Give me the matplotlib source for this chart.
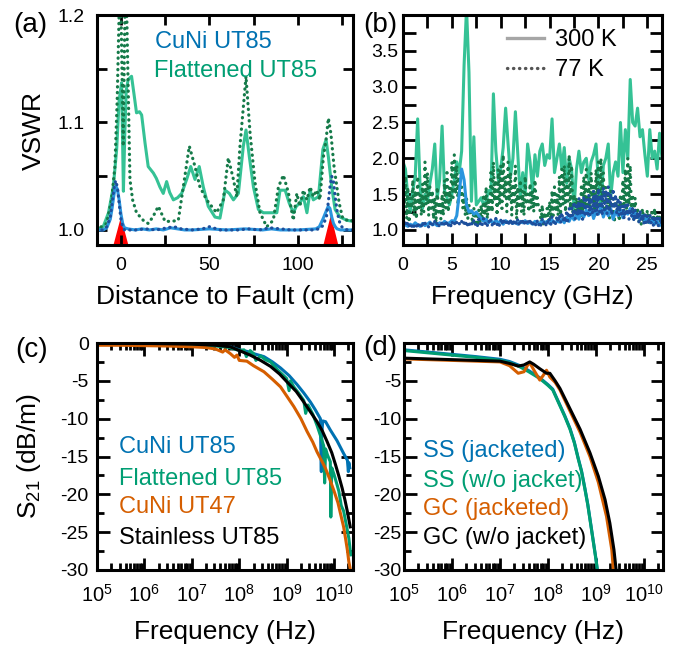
import numpy as np
import matplotlib
matplotlib.use('Agg')
import matplotlib.pyplot as plt
from matplotlib.ticker import MultipleLocator, LogLocator, NullFormatter, FixedLocator
from matplotlib.lines import Line2D

plt.rcParams['font.family'] = ['Liberation Sans', 'DejaVu Sans']
plt.rcParams['mathtext.fontset'] = 'custom'
plt.rcParams['mathtext.rm'] = 'Liberation Sans'
plt.rcParams['mathtext.it'] = 'Liberation Sans:italic'
plt.rcParams['mathtext.bf'] = 'Liberation Sans:bold'
plt.rcParams['axes.unicode_minus'] = False

# ---------------- Panel (a): VSWR vs distance to fault ----------------
fault_pos = [0.0, 118.5]
fault_apex = [1.012, 1.014]

a_cuni300_x = [-14, -10, -8, -6, -5, -4, -3, -2, -1, 0, 1, 2, 4, 8, 12, 16, 20, 24, 28, 32, 36, 40, 50, 60,
               70, 80, 85, 90, 100, 110, 112, 114, 116, 117, 118, 119, 120, 121, 122, 124, 126, 128, 131]
a_cuni300_y = [1.0, 1.0, 1.002, 1.01, 1.02, 1.032, 1.041, 1.038, 1.028, 1.015, 1.006, 1.002, 1.001, 1.0,
               1.001, 1.0, 1.001, 1.0, 1.002, 1.001, 1.0, 1.0, 1.001, 1.0, 1.001, 1.0, 1.001, 1.0, 1.0,
               1.001, 1.003, 1.01, 1.018, 1.022, 1.02, 1.012, 1.006, 1.003, 1.001, 1.0, 1.0, 1.0, 1.0]

a_cuni77_x = [-14, -10, -8, -6, -5, -4, -3, -2, -1, 0, 1, 2, 4, 8, 14, 20, 26, 30, 34, 40, 46, 50, 56, 60,
              66, 72, 78, 84, 90, 96, 102, 108, 112, 114, 116, 117, 118, 119, 120, 121, 122, 123, 124, 126,
              128, 131]
a_cuni77_y = [1.0, 1.0, 1.003, 1.012, 1.025, 1.038, 1.046, 1.04, 1.025, 1.01, 1.003, 1.0, 1.0, 1.0, 1.001,
              1.0, 1.002, 1.003, 1.001, 1.0, 1.001, 1.003, 1.0, 1.0, 1.0, 1.001, 1.0, 1.002, 1.001, 1.0,
              1.0, 1.0, 1.001, 1.004, 1.012, 1.025, 1.04, 1.05, 1.045, 1.03, 1.018, 1.01, 1.004, 1.001,
              1.0, 1.0]

a_flat300_x = [-14, -10, -7, -4.3, -2.4, -1.0, 0.4, 1.4, 2.2, 3.0, 4.1, 6.0, 7.5, 8.8, 10.5, 11.7, 13.6,
               15.4, 18.3, 20, 22, 23.9, 25.8, 27.5, 29.6, 32, 34.3, 37.1, 39.4, 41.8, 44.2, 46.5, 49.3,
               53.1, 55.9, 58.8, 61.2, 63.5, 66.3, 69.1, 70.6, 72.5, 74.8, 77.6, 80.4, 84, 88, 89.8, 92.7,
               95, 97.3, 99, 101, 103, 105, 106.8, 108.6, 111.5, 114, 115.8, 117.1, 119, 120.9, 123.7,
               127.5, 131]
a_flat300_y = [1.0, 1.003, 1.016, 1.04, 1.075, 1.121, 1.137, 1.036, 1.09, 1.13, 1.14, 1.143, 1.125, 1.109,
               1.11, 1.107, 1.081, 1.059, 1.053, 1.048, 1.040, 1.034, 1.045, 1.035, 1.028, 1.03, 1.034,
               1.047, 1.059, 1.047, 1.059, 1.040, 1.022, 1.012, 1.011, 1.037, 1.034, 1.028, 1.034, 1.078,
               1.093, 1.068, 1.040, 1.019, 1.016, 1.016, 1.016, 1.037, 1.037, 1.025, 1.016, 1.022, 1.025,
               1.031, 1.016, 1.037, 1.028, 1.031, 1.075, 1.084, 1.068, 1.040, 1.019, 1.012, 1.009, 1.008]

a_flat77_x = [-14, -8.1, -5.3, -3.4, -2.1, -1.1, -0.5, 1.3, 2.6, 3.3, 5.1, 6.6, 8.8, 12.6, 15.4, 18, 21.1,
              23, 24.9, 28.6, 32.4, 35.2, 38.6, 41.8, 44.6, 48.4, 54, 57.8, 60.6, 63.5, 65.4, 67.2, 70.6,
              72.9, 75.7, 78.5, 82.3, 86, 88.9, 91.7, 94.5, 97.3, 99.3, 101, 103, 105, 106.8, 108.6,
              110.5, 112.3, 114.3, 115.8, 117.1, 118.5, 120.3, 121.9, 123.2, 125, 127, 129, 131]
a_flat77_y = [1.0, 1.006, 1.028, 1.059, 1.121, 1.196, 1.26, 1.078, 1.25, 1.2, 1.047, 1.028, 1.016, 1.009,
              1.006, 1.012, 1.022, 1.015, 1.008, 1.008, 1.009, 1.040, 1.078, 1.059, 1.040, 1.028, 1.016,
              1.028, 1.067, 1.047, 1.031, 1.078, 1.143, 1.090, 1.044, 1.016, 1.003, 1.009, 1.040, 1.051,
              1.035, 1.009, 1.034, 1.022, 1.037, 1.028, 1.040, 1.031, 1.037, 1.028, 1.068, 1.084, 1.104,
              1.090, 1.059, 1.040, 1.025, 1.012, 1.009, 1.01, 1.008]

# ---------------- Panel (b): VSWR vs frequency ----------------
b_flat300 = [1.95, 1.85, 1.45, 1.25, 1.55, 1.75, 2.55, 1.60, 1.30, 1.50, 1.40, 1.65, 1.85, 2.20, 1.45, 1.70,
             2.45, 1.55, 1.45, 1.35, 1.50, 1.70, 1.95, 1.80, 2.10, 3.30, 4.10, 3.20, 1.40, 2.30, 1.35, 1.40,
             1.45, 1.35, 1.40, 1.55, 1.50, 2.90, 2.10, 1.70, 1.85, 2.15, 2.70, 2.20, 1.75, 2.00, 2.65, 2.05,
             1.45, 1.80, 1.50, 2.20, 1.95, 1.55, 2.05, 1.75, 2.10, 2.20, 1.90, 2.05, 2.00, 2.55, 1.80, 2.00,
             2.20, 1.85, 2.15, 1.65, 2.00, 1.85, 1.30, 1.85, 2.10, 1.80, 1.95, 2.00, 1.70, 1.95, 2.05, 2.20,
             1.65, 1.30, 1.90, 2.00, 2.20, 1.45, 1.80, 1.95, 1.75, 2.50, 1.80, 2.40, 2.00, 3.10, 2.50, 2.45,
             2.70, 2.30, 2.40, 2.05, 1.75, 2.40, 2.00, 2.10, 1.85, 2.35, 2.00]

b_flat77 = [1.9, 1.35, 1.75, 1.15, 1.6, 1.1, 1.45, 1.3,
            1.7, 1.2, 1.55, 1.15, 1.75, 1.3, 1.5, 1.2,
            1.65, 1.25, 1.95, 1.35, 1.8, 1.2, 1.6, 1.3,
            1.55, 1.15, 1.45, 1.1, 1.6, 1.25, 1.4, 1.15,
            1.5, 1.2, 1.7, 1.3, 1.8, 1.25, 1.6, 1.4,
            1.95, 1.45, 2.05, 1.5, 1.9, 1.35, 1.75, 1.45,
            1.6, 1.3, 1.5, 1.2, 1.45, 1.15, 1.35, 1.2,
            1.25, 1.08, 1.3, 1.1, 1.2, 1.05, 1.28, 1.1,
            1.35, 1.12, 1.5, 1.2, 1.6, 1.15, 1.45, 1.25,
            1.8, 1.25, 1.95, 1.4, 1.7, 1.2, 1.85, 1.35,
            1.9, 1.3, 2.05, 1.45, 1.75, 1.25, 1.95, 1.4,
            1.8, 1.2, 1.65, 1.35, 1.9, 1.15, 1.6, 1.3,
            1.7, 1.25, 1.55, 1.2, 1.75, 1.35, 1.5, 1.25,
            1.65, 1.3, 1.55, 1.25, 1.7, 1.35, 1.45, 1.3,
            1.3, 1.1, 1.35, 1.05, 1.25, 1.1, 1.3, 1.12,
            1.4, 1.15, 1.55, 1.2, 1.6, 1.25, 1.5, 1.2,
            1.75, 1.2, 1.85, 1.35, 1.9, 1.25, 1.7, 1.4,
            2.05, 1.3, 1.9, 1.25, 1.5, 1.15, 1.45, 1.2,
            1.4, 1.15, 1.6, 1.2, 1.75, 1.3, 1.85, 1.25,
            1.7, 1.2, 1.8, 1.35, 1.65, 1.2, 1.85, 1.3,
            1.95, 1.3, 2.0, 1.4, 1.8, 1.25, 1.6, 1.3,
            1.5, 1.15, 1.55, 1.2, 1.4, 1.1, 1.45, 1.2,
            1.35, 1.12, 1.5, 1.2, 1.7, 1.25, 1.85, 1.3,
            2.0, 1.35, 1.9, 1.25, 1.5, 1.15, 1.45, 1.2,
            1.3, 1.1, 1.25, 1.08, 1.3, 1.12, 1.22, 1.1,
            1.28, 1.1, 1.2, 1.08, 1.25, 1.12, 1.3, 1.1,
            1.22, 1.08, 1.2, 1.1, 1.18]

b_cuni300 = [1.1, 1.07, 1.05, 1.08, 1.06, 1.1, 1.07, 1.05, 1.09, 1.06, 1.08, 1.11, 1.07, 1.09, 1.06, 1.1,
             1.08, 1.12, 1.09, 1.1, 1.13, 1.12,
             1.2, 1.5, 1.85, 1.7, 1.35, 1.25, 1.27, 1.22, 1.25, 1.2, 1.16,
             1.12, 1.15, 1.1, 1.13, 1.09, 1.14, 1.1, 1.12, 1.08, 1.13, 1.1, 1.12, 1.09, 1.11, 1.08, 1.12,
             1.1, 1.13, 1.09, 1.11, 1.08, 1.12, 1.1, 1.09, 1.13, 1.1, 1.12, 1.09, 1.14, 1.1, 1.12, 1.11,
             1.15, 1.1, 1.18, 1.12, 1.2, 1.14, 1.22, 1.15, 1.25, 1.18, 1.28, 1.2, 1.3, 1.16, 1.27, 1.22,
             1.32, 1.18, 1.28, 1.2, 1.3, 1.15, 1.26, 1.2, 1.28, 1.17, 1.25, 1.22, 1.3, 1.18, 1.24, 1.2,
             1.15, 1.2, 1.12, 1.18, 1.1, 1.14, 1.08, 1.12, 1.06, 1.1]

b_cuni77 = [1.08, 1.04, 1.1, 1.05, 1.12, 1.06, 1.09, 1.04,
            1.1, 1.05, 1.08, 1.04, 1.11, 1.06, 1.09, 1.05,
            1.12, 1.05, 1.1, 1.06, 1.08, 1.04, 1.11, 1.05,
            1.09, 1.05, 1.12, 1.06, 1.1, 1.04, 1.08, 1.05,
            1.11, 1.06, 1.09, 1.05, 1.12, 1.06, 1.1, 1.05,
            1.13, 1.06, 1.1, 1.05, 1.12, 1.07, 1.09, 1.06,
            1.12, 1.06, 1.1, 1.05, 1.13, 1.06, 1.11, 1.05,
            1.1, 1.06, 1.14, 1.07, 1.12, 1.06, 1.15, 1.07,
            1.13, 1.07, 1.16, 1.08, 1.12, 1.06, 1.14, 1.08,
            1.15, 1.07, 1.13, 1.08, 1.16, 1.07, 1.12, 1.06,
            1.14, 1.07, 1.16, 1.08, 1.12, 1.06, 1.15, 1.07,
            1.13, 1.06, 1.15, 1.08, 1.12, 1.07, 1.16, 1.08,
            1.14, 1.07, 1.12, 1.06, 1.15, 1.08, 1.13, 1.07,
            1.12, 1.06, 1.14, 1.07, 1.11, 1.05, 1.13, 1.06,
            1.12, 1.06, 1.15, 1.08, 1.13, 1.07, 1.14, 1.08,
            1.16, 1.08, 1.18, 1.1, 1.15, 1.08, 1.2, 1.1,
            1.22, 1.1, 1.25, 1.12, 1.2, 1.1, 1.28, 1.12,
            1.3, 1.15, 1.35, 1.18, 1.4, 1.15, 1.38, 1.2,
            1.45, 1.2, 1.4, 1.15, 1.48, 1.22, 1.42, 1.18,
            1.5, 1.2, 1.45, 1.22, 1.55, 1.25, 1.5, 1.2,
            1.58, 1.25, 1.5, 1.2, 1.6, 1.28, 1.55, 1.22,
            1.6, 1.25, 1.52, 1.2, 1.58, 1.3, 1.5, 1.22,
            1.45, 1.2, 1.4, 1.18, 1.35, 1.15, 1.38, 1.2,
            1.35, 1.15, 1.3, 1.18, 1.32, 1.12, 1.28, 1.15,
            1.25, 1.1, 1.28, 1.12, 1.22, 1.08, 1.25, 1.1,
            1.2, 1.08, 1.22, 1.1, 1.18, 1.06, 1.2, 1.08,
            1.18, 1.06, 1.2, 1.08, 1.15]

b_freq_coarse = np.linspace(0, 26.5, len(b_flat300))
b_freq_fine = np.linspace(0, 26.5, len(b_flat77))

# ---------------- Panel (c): S21 of cable types (log10 Hz, dB/m) ----------------
c_labels = ['CuNi UT85', 'Flattened UT85', 'CuNi UT47', 'Stainless UT85']
c_cuni85_lf = [5.0, 5.5, 6.0, 6.5, 7.0, 7.3, 7.6, 7.81, 8.0, 8.16, 8.3, 8.52, 8.7, 8.87, 9.05, 9.22, 9.36,
               9.5, 9.6, 9.71, 9.72, 9.73, 9.74, 9.76, 9.82, 9.92, 10.06, 10.2, 10.28, 10.3, 10.31, 10.33]
c_cuni85_db = [0, 0, 0, -0.05, -0.1, -0.2, -0.3, -0.5, -0.9, -1.1, -1.4, -1.8, -2.5, -3.3, -4.3, -5.5,
               -6.6, -7.8, -8.8, -10.0, -14, -17, -12, -10.3, -10.4, -11.5, -12.9, -14.6, -15.5, -17,
               -15.8, -16.5]
c_flat85_lf = [5.0, 6.0, 7.0, 7.5, 7.8, 8.0, 8.1, 8.15, 8.23, 8.3, 8.35, 8.45, 8.55, 8.66, 8.8, 8.9, 9.0,
               9.05, 9.08, 9.15, 9.25, 9.36, 9.4, 9.45, 9.55, 9.64, 9.72, 9.78, 9.8, 9.82, 9.86, 9.92, 9.93,
               9.95, 10.0, 10.06, 10.1, 10.15, 10.2, 10.25, 10.31, 10.35]
c_flat85_db = [0, -0.05, -0.2, -0.4, -0.6, -1.0, -0.9, -1.8, -1.0, -1.4, -2.3, -1.7, -2.2, -2.5, -3.5,
               -4.1, -4.7, -6.3, -5.0, -5.8, -6.6, -7.6, -9.3, -8.2, -9.4, -10.9, -12.4, -13.6, -18.5,
               -14.0, -14.8, -15.7, -23, -16.5, -17.4, -18.7, -19.6, -21.5, -22.2, -23.8, -25.8, -28.0]
c_cuni47_lf = [5.0, 5.5, 6.0, 6.5, 7.0, 7.3, 7.5, 7.65, 7.7, 7.81, 7.9, 7.95, 8.0, 8.16, 8.3, 8.52, 8.7,
               8.87, 9.0, 9.15, 9.3, 9.43, 9.55, 9.64, 9.74, 9.82, 9.92, 10.0, 10.08, 10.14, 10.2, 10.24,
               10.28, 10.31, 10.36]
c_cuni47_db = [-0.3, -0.3, -0.35, -0.4, -0.5, -0.6, -0.8, -1.2, -0.9, -1.4, -1.9, -1.6, -2.3, -2.4, -3.0,
               -3.8, -4.8, -5.8, -7.0, -8.4, -10.0, -11.7, -13.1, -14.4, -15.6, -16.6, -18.2, -19.6,
               -21.1, -22.7, -24.3, -25.8, -27.4, -28.9, -30.5]
c_ss85_lf = [5.0, 6.0, 7.0, 7.5, 7.81, 8.0, 8.23, 8.45, 8.66, 8.85, 9.0, 9.2, 9.36, 9.5, 9.64, 9.75, 9.85,
             9.95, 10.03, 10.1, 10.17, 10.23, 10.28, 10.34]
c_ss85_db = [0, -0.05, -0.15, -0.3, -0.5, -1.0, -1.6, -2.3, -3.1, -4.1, -5.1, -6.4, -7.8, -9.1, -10.4,
             -11.6, -13.0, -14.5, -16.1, -17.6, -19.2, -20.8, -22.3, -24.3]

# ---------------- Panel (d): S21 jacketed vs unjacketed ----------------
d_labels = ['SS (jacketed)', 'SS (w/o jacket)', 'GC (jacketed)', 'GC (w/o jacket)']
d_ss_lf = [5.0, 5.5, 6.0, 6.5, 7.0, 7.2, 7.4, 7.6, 7.83, 8.0, 8.1, 8.25, 8.35, 8.46, 8.55, 8.63, 8.7, 8.77,
           8.83, 8.875, 8.92, 8.96, 9.0, 9.04]
d_ssj_db = [-0.9, -1.2, -1.5, -1.8, -2.15, -2.45, -2.95, -3.65, -4.6, -5.5, -6.1, -8.2, -9.6, -11.3, -13.1,
            -15.2, -16.9, -19.2, -21.3, -23.2, -25.1, -26.8, -28.5, -30.5]
d_ssn_db = [-1.0, -1.3, -1.6, -1.9, -2.3, -2.6, -3.1, -3.8, -4.7, -5.6, -6.2, -8.3, -9.7, -11.4, -13.2,
            -15.3, -17.0, -19.3, -21.4, -23.3, -25.2, -26.9, -28.6, -30.5]
d_gcj_lf = [5.0, 5.5, 6.0, 6.5, 7.0, 7.2, 7.38, 7.5, 7.58, 7.62, 7.7, 7.83, 7.9, 7.97, 8.04, 8.15, 8.25,
            8.46, 8.67, 8.875, 9.05, 9.22, 9.33, 9.37]
d_gcj_db = [-2.1, -2.2, -2.3, -2.4, -2.5, -3.0, -4.0, -3.8, -2.9, -2.6, -3.5, -4.9, -4.3, -3.6, -4.5, -5.2,
            -6.2, -9.0, -11.8, -15.0, -18.4, -22.9, -27.3, -30.5]
d_gcn_lf = [5.0, 5.5, 6.0, 6.5, 7.0, 7.2, 7.38, 7.5, 7.62, 7.7, 7.83, 7.97, 8.04, 8.15, 8.25, 8.46, 8.67,
            8.875, 9.05, 9.19, 9.29, 9.375, 9.43]
d_gcn_db = [-2.0, -2.1, -2.2, -2.3, -2.4, -2.7, -3.05, -2.9, -2.5, -2.8, -3.4, -4.0, -4.0, -5.0, -6.0,
            -8.7, -11.4, -14.5, -17.6, -20.7, -23.8, -27.3, -30.5]

# ---------------- styling ----------------
C_BLUE, C_GREEN, C_ORANGE, C_BLACK = '#0072B2', '#009E73', '#D55E00', '#000000'
C_CUNI300, C_CUNI77 = '#2a95de', '#1d4f9c'
C_FLAT300, C_FLAT77 = '#35c295', '#157a49'
DOT = (0, (0.1, 1.7))
DOT_B = (0, (0.1, 2.1))
TICK_FS = 14
LABEL_FS = 19
LEG_FS = 17

fig = plt.figure(figsize=(6.73, 6.48), dpi=100)
W, H = 673.0, 648.0


def add_ax(l, r, t, b):
    return fig.add_axes([l / W, 1 - b / H, (r - l) / W, (b - t) / H])


ax_a = add_ax(97, 353, 15, 245)
ax_b = add_ax(403, 662, 15, 245)
ax_c = add_ax(97, 353, 343, 570)
ax_d = add_ax(404, 663, 343, 570)

for ax in (ax_a, ax_b, ax_c, ax_d):
    for s in ax.spines.values():
        s.set_linewidth(2.2)
    ax.tick_params(which='both', direction='in', top=True, right=True, width=2.0,
                   labelsize=TICK_FS)

# ---- (a)
ax_a.plot(a_flat300_x, a_flat300_y, color=C_FLAT300, lw=2.2)
ax_a.plot(a_flat77_x, a_flat77_y, color=C_FLAT77, lw=2.3, ls=DOT, dash_capstyle='round')
ax_a.plot(a_cuni300_x, a_cuni300_y, color=C_CUNI300, lw=2.2)
ax_a.plot(a_cuni77_x, a_cuni77_y, color=C_CUNI77, lw=2.3, ls=DOT, dash_capstyle='round')
ybot_a = 0.986
for fx, ap in zip(fault_pos, fault_apex):
    ax_a.fill([fx - 4.2, fx, fx + 4.2], [ybot_a, ap, ybot_a], color='#ff0000', lw=0, zorder=1.5)
ax_a.set_xlim(-13.5, 131)
ax_a.set_ylim(ybot_a, 1.2)
ax_a.xaxis.set_major_locator(FixedLocator([0, 50, 100]))
ax_a.xaxis.set_minor_locator(FixedLocator([25, 75, 125]))
ax_a.yaxis.set_major_locator(FixedLocator([1.0, 1.1, 1.2]))
ax_a.yaxis.set_minor_locator(FixedLocator([1.05, 1.15]))
ax_a.yaxis.set_major_formatter(plt.FuncFormatter(lambda v, p: f'{v:.1f}'))
ax_a.tick_params(which='both', length=7)
ax_a.tick_params(axis='x', pad=9)
ax_a.tick_params(axis='y', pad=9)
ax_a.set_xlabel('Distance to Fault (cm)', fontsize=LABEL_FS)
ax_a.set_ylabel('VSWR', fontsize=LABEL_FS)
ax_a.xaxis.set_label_coords(0.5, -0.175)
ax_a.yaxis.set_label_coords(-0.2, 0.5)
ax_a.text(0.227, 0.855, 'CuNi UT85', color=C_BLUE, fontsize=LEG_FS, transform=ax_a.transAxes,
          va='baseline')
ax_a.text(0.222, 0.729, 'Flattened UT85', color=C_GREEN, fontsize=LEG_FS, transform=ax_a.transAxes,
          va='baseline')

# ---- (b)
ax_b.plot(b_freq_coarse, b_flat300, color=C_FLAT300, lw=2.2)
ax_b.plot(b_freq_fine, b_flat77, color=C_FLAT77, lw=2.3, ls=DOT_B, dash_capstyle='round')
ax_b.plot(b_freq_coarse, b_cuni300, color=C_CUNI300, lw=2.2)
ax_b.plot(b_freq_fine, b_cuni77, color=C_CUNI77, lw=2.3, ls=DOT_B, dash_capstyle='round')
ax_b.set_xlim(0, 26.5)
ax_b.set_ylim(0.79, 4.0)
ax_b.xaxis.set_major_locator(MultipleLocator(5))
ax_b.xaxis.set_minor_locator(MultipleLocator(2.5))
ax_b.yaxis.set_major_locator(FixedLocator([1.0, 1.5, 2.0, 2.5, 3.0, 3.5]))
ax_b.yaxis.set_minor_locator(MultipleLocator(0.25))
ax_b.yaxis.set_major_formatter(plt.FuncFormatter(lambda v, p: f'{v:.1f}'))
ax_b.tick_params(which='both', length=9)
ax_b.tick_params(axis='x', pad=9)
ax_b.tick_params(axis='y', pad=3)
ax_b.set_xlabel('Frequency (GHz)', fontsize=LABEL_FS)
ax_b.xaxis.set_label_coords(0.5, -0.175)
h300 = Line2D([], [], color='#a6a6a6', lw=2.4)
h77 = Line2D([], [], color='#555555', lw=2.4, ls=DOT, dash_capstyle='round')
ax_b.legend([h300, h77], ['300 K', '77 K'], loc='upper left', bbox_to_anchor=(0.4, 0.94),
            frameon=False, fontsize=LEG_FS, handlelength=1.6, handletextpad=0.45,
            borderpad=0, borderaxespad=0, labelspacing=0.35)

# ---- (c)
for lf, db, col in [(c_cuni85_lf, c_cuni85_db, C_BLUE), (c_flat85_lf, c_flat85_db, C_GREEN),
                    (c_cuni47_lf, c_cuni47_db, C_ORANGE), (c_ss85_lf, c_ss85_db, C_BLACK)]:
    ax_c.plot(10.0 ** np.array(lf), db, color=col, lw=2.2)

# ---- (d)
for lf, db, col in [(d_ss_lf, d_ssj_db, C_BLUE), (d_ss_lf, d_ssn_db, C_GREEN),
                    (d_gcj_lf, d_gcj_db, C_ORANGE), (d_gcn_lf, d_gcn_db, C_BLACK)]:
    ax_d.plot(10.0 ** np.array(lf), db, color=col, lw=2.2)

for ax in (ax_c, ax_d):
    ax.set_xscale('log')
    ax.set_xlim(1e5, 2.5e10)
    ax.set_ylim(-30, 0)
    ax.xaxis.set_major_locator(LogLocator(base=10, numticks=20))
    ax.xaxis.set_minor_locator(LogLocator(base=10, subs=np.arange(2, 10), numticks=100))
    ax.xaxis.set_minor_formatter(NullFormatter())
    ax.yaxis.set_minor_locator(MultipleLocator(2.5))
    ax.tick_params(which='major', length=9)
    ax.tick_params(which='minor', length=5)
    ax.tick_params(axis='x', pad=10, labelsize=14.5)
    ax.set_xlabel('Frequency (Hz)', fontsize=LABEL_FS)
    ax.xaxis.set_label_coords(0.5, -0.22)

ax_c.yaxis.set_major_locator(FixedLocator([-30, -25, -20, -15, -10, -5, 0]))
ax_d.yaxis.set_major_locator(FixedLocator([-30, -25, -20, -15, -10, -5]))
ax_c.tick_params(axis='y', pad=6)
ax_d.tick_params(axis='y', pad=2)
ax_c.set_ylabel(r'S$_{\mathrm{21}}$ (dB/m)', fontsize=LABEL_FS)
ax_c.yaxis.set_label_coords(-0.21, 0.5)

for txt, col, yy in zip(c_labels, [C_BLUE, C_GREEN, C_ORANGE, C_BLACK], [0.514, 0.374, 0.250, 0.115]):
    ax_c.text(0.087, yy, txt, color=col, fontsize=LEG_FS, transform=ax_c.transAxes, va='baseline')
for txt, col, yy in zip(d_labels, [C_BLUE, C_GREEN, C_ORANGE, C_BLACK], [0.499, 0.367, 0.242, 0.115]):
    ax_d.text(0.075, yy, txt, color=col, fontsize=LEG_FS, transform=ax_d.transAxes, va='baseline')

# panel letters
for lbl, x, y in [('(a)', 13, 32), ('(b)', 363, 32), ('(c)', 15, 357), ('(d)', 363, 355)]:
    fig.text(x / W, 1 - y / H, lbl, fontsize=20, va='baseline', ha='left')

fig.savefig('out.png', dpi=100)
